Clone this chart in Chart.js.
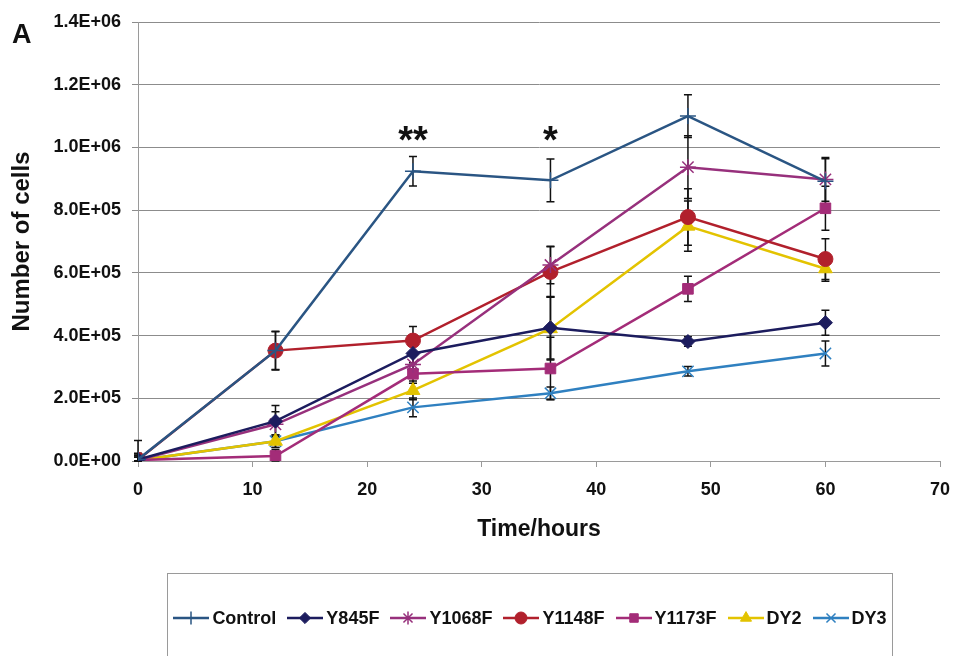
<!DOCTYPE html>
<html>
<head>
<meta charset="utf-8">
<script src="https://cdn.jsdelivr.net/npm/chart.js@4/dist/chart.umd.min.js"></script>
<style>
  html, body { margin: 0; padding: 0; background: #fff; }
  #wrap { position: relative; width: 958px; height: 656px; overflow: hidden; }
  #panel { position: absolute; left: 12px; top: 21px; font: bold 27px "Liberation Sans", Arial, sans-serif; line-height: 1; color: #111; }
  #legend {
    position: absolute; left: 167px; top: 573px; width: 726px; height: 100px;
    border: 1px solid #9a9a9a; display: flex; justify-content: center; align-items: flex-start;
    padding-top: 34px; box-sizing: border-box; gap: 11px;
    font: bold 18px "Liberation Sans", Arial, sans-serif; color: #111;
  }
  .item { display: flex; align-items: center; height: 20px; line-height: 20px; }
  .item canvas { margin-right: 3px; }
</style>
</head>
<body>
<div id="wrap">
  <canvas id="chart" width="958" height="656"></canvas>
  <div id="panel">A</div>
  <div id="legend"></div>
</div>
<script>
// time points (hours)
const hours = [0, 12, 24, 36, 48, 60];

const seriesNames = ['Control', 'Y845F', 'Y1068F', 'Y1148F', 'Y1173F', 'DY2', 'DY3'];

// mean cell counts
const control = [5000, 352000, 924000, 895000, 1100000, 892000];
const y845f   = [5000, 127000, 343000, 425000, 381000, 441000];
const y1068f  = [3000, 117000, 308000, 625000, 937000, 898000];
const y1148f  = [4000, 352000, 384000, 603000, 778000, 644000];
const y1173f  = [3000, 16000, 278000, 295000, 549000, 806000];
const dy2     = [2000, 63000, 225000, 422000, 749000, 613000];
const dy3     = [2000, 63000, 171000, 216000, 286000, 343000];

// standard deviations
const controlErr = [60000, 62000, 47000, 68000, 68000, 72000];
const y845fErr   = [20000, 50000, 30000, 100000, 15000, 40000];
const y1068fErr  = [15000, 40000, 40000, 60000, 100000, 70000];
const y1148fErr  = [15000, 60000, 45000, 80000, 90000, 65000];
const y1173fErr  = [10000, 20000, 30000, 100000, 40000, 70000];
const dy2Err     = [10000, 20000, 30000, 100000, 80000, 40000];
const dy3Err     = [10000, 20000, 30000, 20000, 15000, 40000];

// significance marks above the control curve
const starHours = [24, 36];
const starText = ['**', '*'];
const starLevel = 1000000;

const yTicks = [0, 200000, 400000, 600000, 800000, 1000000, 1200000, 1400000];

const FONT = '"Liberation Sans", Arial, sans-serif';

function sci(v) {
  // 1.4E+06 style
  if (v === 0) return '0.0E+00';
  const e = Math.floor(Math.log10(v));
  const m = (v / Math.pow(10, e)).toFixed(1);
  const ee = String(Math.abs(e)).padStart(2, '0');
  return m + 'E' + (e < 0 ? '-' : '+') + ee;
}

function series(label, values, errs, color, style, radius, bw) {
  return {
    label: label,
    data: hours.map((h, i) => ({ x: h, y: values[i] })),
    errors: errs,
    borderColor: color,
    backgroundColor: color,
    borderWidth: 2.5,
    pointStyle: style,
    pointRadius: radius,
    pointBorderWidth: bw,
    pointBackgroundColor: color,
    pointBorderColor: color,
    tension: 0
  };
}

const datasets = [
  series(seriesNames[0], control, controlErr, '#2a5583', 'cross', 8, 1.5),
  series(seriesNames[1], y845f, y845fErr, '#1c1c5e', 'rectRot', 7, 1),
  series(seriesNames[2], y1068f, y1068fErr, '#97307c', 'star', 8, 1.5),
  series(seriesNames[3], y1148f, y1148fErr, '#b1202c', 'circle', 7.5, 1),
  series(seriesNames[4], y1173f, y1173fErr, '#a32c78', 'rect', 7.5, 1),
  series(seriesNames[5], dy2, dy2Err, '#e3c300', 'triangle', 8, 1),
  series(seriesNames[6], dy3, dy3Err, '#2f80c0', 'crossRot', 8, 1.5)
];

const errorBars = {
  id: 'errorBars',
  beforeDatasetsDraw(chart) {
    const ctx = chart.ctx;
    const xs = chart.scales.x, ys = chart.scales.y;
    ctx.save();
    ctx.strokeStyle = '#111';
    ctx.lineWidth = 1.5;
    chart.data.datasets.forEach(ds => {
      ds.data.forEach((p, i) => {
        const e = ds.errors[i];
        const x = xs.getPixelForValue(p.x);
        const y1 = ys.getPixelForValue(Math.max(0, p.y - e));
        const y2 = ys.getPixelForValue(p.y + e);
        ctx.beginPath();
        ctx.moveTo(x, y1); ctx.lineTo(x, y2);
        ctx.moveTo(x - 4, y1); ctx.lineTo(x + 4, y1);
        ctx.moveTo(x - 4, y2); ctx.lineTo(x + 4, y2);
        ctx.stroke();
      });
    });
    ctx.restore();
  }
};

const stars = {
  id: 'stars',
  afterDatasetsDraw(chart) {
    const ctx = chart.ctx;
    ctx.save();
    ctx.fillStyle = '#111';
    ctx.font = 'bold 38px ' + FONT;
    ctx.textAlign = 'center';
    ctx.textBaseline = 'alphabetic';
    starHours.forEach((h, i) => {
      ctx.fillText(starText[i], chart.scales.x.getPixelForValue(h), chart.scales.y.getPixelForValue(starLevel) + 6);
    });
    ctx.restore();
  }
};

const chart = new Chart(document.getElementById('chart'), {
  type: 'line',
  data: { datasets: datasets },
  options: {
    responsive: false,
    animation: false,
    layout: { padding: { left: 0, right: 0, top: 22, bottom: 100 } },
    plugins: { legend: { display: false }, tooltip: { enabled: false } },
    scales: {
      x: {
        type: 'linear',
        min: 0, max: 70,
        afterFit(scale) { scale.height = 95; scale.paddingRight = 18; scale.paddingLeft = 0; },
        ticks: { stepSize: 10, color: '#111', padding: 12, font: { family: FONT, size: 18, weight: 'bold' } },
        grid: { drawOnChartArea: false, drawTicks: true, tickLength: 6, color: '#9a9a9a' },
        border: { color: '#9a9a9a', width: 1 },
        title: { display: true, text: 'Time/hours', color: '#111', padding: { top: 0, bottom: 13 }, font: { family: FONT, size: 23, weight: 'bold' } }
      },
      y: {
        min: 0, max: 1400000,
        afterFit(scale) { scale.width = 138; },
        afterBuildTicks(scale) { scale.ticks = yTicks.map(v => ({ value: v })); },
        ticks: { color: '#111', padding: 11, callback: v => sci(v), font: { family: FONT, size: 18, weight: 'bold' } },
        grid: { color: '#8c8c8c', lineWidth: 1, tickLength: 6 },
        border: { color: '#9a9a9a', width: 1 },
        title: { display: true, text: 'Number of cells', color: '#111', padding: { top: 8, bottom: 0 }, font: { family: FONT, size: 24, weight: 'bold' } }
      }
    }
  },
  plugins: [errorBars, stars]
});

// legend: line with marker, then the series name
const legend = document.getElementById('legend');
datasets.forEach(ds => {
  const item = document.createElement('div');
  item.className = 'item';
  const c = document.createElement('canvas');
  c.width = 36; c.height = 20;
  const g = c.getContext('2d');
  g.strokeStyle = ds.borderColor;
  g.fillStyle = ds.backgroundColor;
  g.lineWidth = 2.5;
  g.beginPath(); g.moveTo(0, 10); g.lineTo(36, 10); g.stroke();
  g.lineWidth = ds.pointBorderWidth;
  Chart.helpers.drawPoint(g, { pointStyle: ds.pointStyle, radius: ds.pointRadius * 0.8, borderWidth: ds.pointBorderWidth, rotation: 0 }, 18, 10);
  const t = document.createElement('span');
  t.textContent = ds.label;
  item.appendChild(c);
  item.appendChild(t);
  legend.appendChild(item);
});
</script>
</body>
</html>
